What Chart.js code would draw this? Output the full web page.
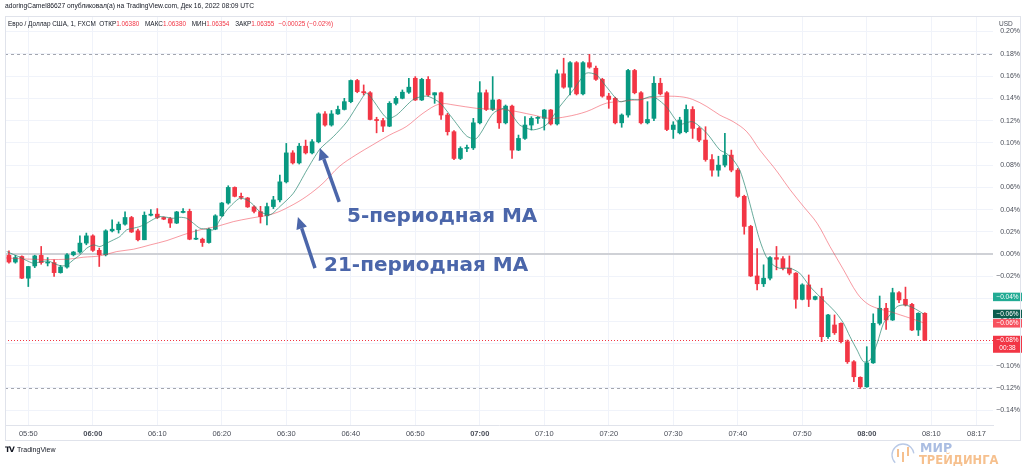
<!DOCTYPE html>
<html lang="ru">

<head>
    <meta charset="UTF-8">
    <title>Евро / Доллар США, 1, FXCM</title>
    <script src="https://cdn.jsdelivr.net/npm/chart.js"></script>
    <style>
        html, body { margin: 0; padding: 0; background: #fff; }
        .wrap { position: relative; width: 1024px; height: 473px; overflow: hidden; font-family: 'Liberation Sans', Arial, sans-serif; color: #131722; }
        #chart { position: absolute; left: 0; top: 0; }
        .author { position: absolute; left: 5px; top: 2px; font-size: 6.7px; white-space: nowrap; }
        .legend { position: absolute; left: 8px; top: 20px; font-size: 6.4px; white-space: nowrap; }
        .legend .v { color: #f23645; margin-right: 4px; }
        .currency { position: absolute; left: 999px; top: 20px; font-size: 6.5px; color: #4a4e59; }
        .note { position: absolute; font-family: 'DejaVu Sans', sans-serif; font-weight: bold; font-size: 20px; line-height: 20px; color: #4b66aa; white-space: nowrap; }
        .tv { position: absolute; left: 5px; top: 445px; font-size: 7px; white-space: nowrap; }
        .tv b { font-family: 'DejaVu Sans', sans-serif; font-size: 7.5px; letter-spacing: -1px; margin-right: 3px; }
        .brand { position: absolute; font-family: 'DejaVu Sans', sans-serif; font-weight: bold; white-space: nowrap; }
    </style>
</head>

<body>
    <div class="wrap">
        <canvas id="chart" width="1024" height="473"></canvas>
        <div class="author">adoringCamel86627 опубликовал(а) на TradingView.com, Дек 16, 2022 08:09 UTC</div>
        <div class="legend">Евро / Доллар США, 1, FXCM&nbsp; ОТКР<span class="v">1.06380</span> МАКС<span class="v">1.06380</span> МИН<span class="v">1.06354</span> ЗАКР<span class="v">1.06355</span><span class="v">−0.00025 (−0.02%)</span></div>
        <div class="currency">USD</div>
        <div class="note" style="left:347px; top:205px;">5-периодная MA</div>
        <div class="note" style="left:324px; top:254px;">21-периодная MA</div>
        <div class="tv"><b>TV</b>TradingView</div>
        <div class="brand" style="left:920px; top:440px; font-size:12.5px; color:#aabde2;">МИР</div>
        <div class="brand" style="left:919px; top:453px; font-size:11.5px; color:#f6c08e;">ТРЕЙДИНГА</div>
    </div>

    <script>
        // values are in hundredths of a percent (15.6 -> 0.156%)
        const firstCandle = '05:47';

        const opens = [
            -0.1, -0.7, -0.2, -2.15, -1.05, -0.1, -0.75, -0.75, -1.65, -1.15,
            -0.05, 0.2, 1.0, 1.65, 0.35, -0.05, 2.1, 2.2, 2.7, 3.3,
            2.1, 1.3, 3.5, 3.6, 3.3, 3.2, 2.8, 3.75, 3.85, 1.35,
            1.35, 1.05, 2.25, 3.45, 4.6, 6.0, 5.2, 5.05, 4.25, 3.83,
            3.45, 4.28, 4.88, 6.5, 9.1, 8.2, 9.7, 9.1, 10.1, 12.6,
            11.6, 12.6, 13.0, 13.7, 15.6, 14.6, 14.5, 12.1, 12.0, 11.5,
            13.55, 14.0, 14.55, 15.8, 13.85, 15.7, 14.3, 14.5, 12.5, 11.0,
            8.6, 9.5, 9.55, 11.8, 14.5, 13.0, 13.85, 11.8, 13.3, 9.35,
            10.4, 11.6, 12.2, 12.2, 12.95, 11.7, 16.2, 15.0, 17.2, 14.4,
            17.2, 16.7, 15.7, 14.2, 14.0, 11.8, 12.5, 16.5, 14.5, 11.8,
            12.2, 15.35, 14.5, 11.2, 10.9, 11.0, 13.0, 11.3, 10.25, 8.5,
            7.55, 8.0, 8.9, 7.55, 5.2, 2.5, -1.95, -2.65, -2.15, -0.3,
            -0.4, -1.25, -1.7, -4.05, -2.75, -4.05, -3.8, -7.4, -6.35, -6.2,
            -7.85, -9.65, -11.05, -11.9, -9.75, -6.2, -4.85, -5.9, -3.45, -4.05,
            -4.5, -6.8, -5.3
        ];
        const highs = [
            0.3, -0.1, -0.15, -1.1, 0.0, 0.7, -0.3, -0.5, -1.0, 0.05,
            0.25, 1.65, 1.9, 1.75, 0.55, 2.2, 3.1, 2.9, 3.8, 3.4,
            2.25, 3.8, 4.0, 4.1, 3.35, 3.3, 3.85, 4.1, 4.05, 2.2,
            1.45, 2.35, 3.55, 4.65, 6.15, 6.05, 5.5, 5.1, 4.35, 4.3,
            4.6, 5.2, 7.1, 9.95, 9.3, 9.95, 10.25, 10.3, 12.7, 12.8,
            12.9, 13.3, 14.0, 15.65, 15.7, 15.2, 14.6, 12.3, 12.2, 13.7,
            14.15, 14.75, 15.8, 15.95, 15.8, 15.95, 14.5, 14.55, 12.65, 11.1,
            9.65, 9.8, 12.2, 15.5, 14.75, 15.95, 13.9, 13.4, 13.4, 10.7,
            12.35, 12.35, 12.35, 13.0, 13.0, 16.55, 17.6, 17.3, 17.3, 17.3,
            17.95, 16.9, 15.8, 14.45, 14.1, 12.6, 16.6, 16.6, 14.6, 13.7,
            15.95, 15.8, 14.6, 11.9, 12.3, 13.4, 13.25, 11.45, 11.45, 8.95,
            8.8, 10.85, 9.35, 7.7, 5.3, 2.6, 0.5, -0.95, -0.2, 0.7,
            -0.2, -0.15, -1.65, -2.65, -1.86, -3.75, -3.05, -5.4, -5.45, -6.15,
            -7.7, -9.55, -11.0, -8.3, -5.35, -3.75, -4.4, -3.05, -3.35, -2.95,
            -4.4, -5.25, -5.25
        ];
        const lows = [
            -0.8, -0.8, -2.2, -2.9, -1.2, -0.9, -1.05, -2.0, -1.7, -1.25,
            -0.15, 0.1, 0.85, 0.25, -1.1, -0.15, 2.0, 1.9, 2.6, 1.95,
            1.2, 1.3, 3.45, 3.2, 3.1, 2.4, 2.75, 3.7, 1.3, 1.3,
            0.7, 1.0, 2.2, 3.4, 4.5, 5.15, 4.95, 4.2, 3.7, 2.8,
            2.63, 4.1, 4.7, 6.4, 8.1, 8.1, 9.0, 9.0, 10.0, 11.5,
            11.5, 12.55, 12.95, 13.6, 14.5, 14.3, 12.05, 10.9, 11.0, 11.45,
            13.4, 13.95, 14.45, 13.8, 13.8, 14.2, 13.55, 12.1, 10.7, 8.5,
            8.5, 9.2, 9.4, 11.7, 12.9, 12.9, 11.3, 11.7, 8.6, 9.3,
            10.3, 11.15, 11.75, 11.15, 11.6, 11.6, 14.9, 14.3, 14.3, 14.3,
            16.7, 15.6, 14.1, 13.1, 11.7, 11.4, 12.3, 14.4, 11.7, 11.7,
            12.0, 14.3, 11.1, 10.4, 10.8, 10.9, 10.4, 10.1, 8.35, 7.0,
            7.0, 7.85, 7.4, 5.1, 1.8, -2.0, -3.2, -2.9, -2.3, -1.4,
            -1.4, -1.85, -4.85, -4.1, -4.7, -4.1, -7.85, -7.55, -7.2, -7.95,
            -9.8, -11.45, -12.05, -11.95, -9.8, -6.35, -6.75, -5.95, -4.35, -4.65,
            -6.85, -7.3, -7.75
        ];
        const closes = [
            -0.7, -0.3, -2.15, -1.1, -0.15, -0.75, -0.7, -1.65, -1.15, -0.05,
            0.2, 1.0, 1.65, 0.35, -0.05, 2.1, 2.25, 2.7, 3.3, 2.0,
            1.3, 3.5, 3.6, 3.3, 3.15, 2.8, 3.8, 3.85, 1.35, 1.4,
            1.05, 2.25, 3.45, 4.6, 6.0, 5.2, 5.1, 4.25, 3.85, 3.38,
            4.28, 4.88, 6.5, 9.1, 8.2, 9.7, 9.1, 10.1, 12.6, 11.6,
            12.6, 13.0, 13.7, 15.6, 14.6, 14.5, 12.1, 12.0, 11.5, 13.55,
            14.0, 14.55, 15.0, 13.85, 15.7, 14.3, 14.5, 12.5, 11.0, 8.6,
            9.5, 9.55, 11.8, 14.5, 13.0, 13.85, 11.8, 13.3, 9.35, 10.4,
            11.6, 12.2, 12.25, 12.95, 11.7, 16.2, 15.0, 17.2, 14.4, 17.2,
            16.8, 15.7, 14.2, 13.9, 11.8, 12.5, 16.5, 14.5, 11.8, 12.1,
            15.35, 14.4, 11.2, 11.6, 12.05, 13.0, 11.3, 10.25, 8.5, 7.55,
            8.0, 8.9, 7.55, 5.2, 2.5, -1.95, -2.65, -2.15, -0.3, -0.45,
            -1.25, -1.7, -4.05, -2.75, -4.05, -3.8, -7.4, -5.45, -7.05, -7.85,
            -9.65, -11.0, -11.9, -9.75, -6.2, -4.85, -5.9, -3.45, -4.1, -4.55,
            -6.8, -5.3, -7.7
        ];

        // moving averages, times in minutes after 05:50
        const ma5Times = [
            -3.35, -1.28, -0.25, 0.78, 2.07, 3.1, 4.14, 5.17, 6.0, 7.0, 8.0, 9.05, 10.1, 11.1, 12.15, 13.2, 14.2,
            15.25, 16.3, 17.3, 18.35, 19.4, 20.4, 21.45, 22.5, 23.5, 24.55, 25.6, 26.6, 27.7, 28.7, 29.7, 30.8,
            31.8, 32.8, 33.9, 34.9, 35.9, 37.5, 39.0, 41.1, 43.2, 45.2, 47.3, 49.4, 51.4, 52.5, 55.6, 57.1, 59.7,
            61.8, 63.8, 65.9, 68.0, 69.5, 72.1, 74.1, 76.2, 78.3, 80.3, 82.4, 84.5, 86.5, 88.1, 89.6, 91.7, 93.2,
            94.8, 96.8, 98.9, 101.0, 103.0, 105.2, 107.2, 108.2, 109.3, 110.3, 111.3, 112.4, 113.4, 114.4, 115.5,
            116.5, 118.1, 119.6, 121.2, 122.7, 123.8, 125.3, 126.4, 127.4, 128.5, 129.5, 130.5, 131.6, 132.6,
            133.6, 134.7, 135.7, 136.8, 137.8, 138.8
        ];
        const ma5Values = [
            0.24, -0.27, -0.57, -0.8, -0.66, -0.6, -0.87, -1.05, -0.96, -0.5, -0.06, 0.54, 0.84, 0.69, 0.99, 1.29, 1.59,
            2.19, 2.34, 2.49, 2.78, 3.14, 3.38, 3.32, 3.23, 3.32, 3.23, 2.78, 2.34, 2.25, 2.19, 3.08, 3.98,
            4.58, 5.03, 4.88, 4.43, 3.83, 3.55, 4.28, 5.48, 7.57, 9.43, 10.56, 11.9, 13.7, 14.46, 12.2, 12.5, 13.9,
            14.2, 13.6, 12.1, 10.6, 10.4, 12.66, 13.1, 11.6, 11.17, 11.6, 13.26, 14.76, 16.25, 16.1, 15.06, 13.7, 13.9,
            13.86, 14.16, 13.26, 11.7, 11.9, 10.86, 9.37, 9.07, 8.47, 7.57, 5.78, 3.38, 1.28, -0.21, -0.96,
            -1.26, -1.26, -1.7, -2.9, -3.8, -4.4, -5.3, -6.2, -7.4, -8.6, -9.65, -9.5, -8.0, -6.2,
            -5.45, -4.7, -4.55, -4.7, -5.0, -5.36
        ];
        const ma21Times = [
            -4.4, 0.8, 6.0, 8.5, 11.1, 13.7, 16.3, 18.9, 21.5, 24.0, 26.6, 29.2, 31.8, 34.4, 37.9, 40.5, 43.1,
            45.7, 48.2, 50.8, 53.4, 56.0, 58.6, 61.2, 63.8, 66.0, 69.5, 74.1, 78.3, 80.8, 83.5, 86.5, 89.6,
            91.7, 94.8, 97.9, 101.0, 103.0, 105.2, 107.2, 109.3, 111.4, 113.4, 115.5, 116.5, 118.1, 120.2,
            122.3, 124.3, 126.4, 128.5, 130.0, 131.6, 133.6, 135.2, 136.8, 139.0
        ];
        const ma21Values = [
            -0.3, -0.45, -0.45, -0.27, -0.15, 0.24, 0.45, 0.84, 1.23, 1.74, 2.19, 2.49, 2.93, 3.23, 3.62, 4.28, 5.18,
            6.38, 7.87, 8.92, 9.82, 10.7, 11.46, 12.66, 13.5, 13.4, 13.1, 12.96, 12.5, 12.2, 12.36, 12.8, 13.56,
            13.7, 13.9, 14.16, 14.15, 13.9, 13.26, 12.5, 11.9, 11.0, 9.37, 7.87, 7.1, 5.8, 4.28,
            2.78, 0.69, -1.4, -3.5, -4.4, -4.85, -5.15, -5.45, -5.75, -6.2
        ];

        const timeTicks = ['05:50', '06:00', '06:10', '06:20', '06:30', '06:40', '06:50', '07:00', '07:10',
            '07:20', '07:30', '07:40', '07:50', '08:00', '08:10', '08:17'];
        const priceTicks = [20, 18, 16, 14, 12, 10, 8, 6, 4, 2, 0, -2, -4, -6, -8, -10, -12, -14];

        // labels stuck on the price scale
        const scaleTags = [
            { value: -3.83, text: ['−0.04%'], bg: '#22ab94' },
            { value: -5.36, text: ['−0.06%'], bg: '#0b5d4e' },
            { value: -6.2, text: ['−0.06%'], bg: '#f7525f' },
            { value: -7.7, text: ['−0.08%', '00:38'], bg: '#f23645' }
        ];

        // arrows of the notes: tail and tip, [time after 05:50, value]
        const arrows = [
            { from: [48.2, 4.7], to: [45.2, 9.55] },
            { from: [44.45, -1.25], to: [41.8, 3.35] }
        ];

        const upColor = '#089981';
        const downColor = '#f23645';

        function toMin(s) {
            var p = s.split(':');
            return +p[0] * 60 + +p[1];
        }
        function toClock(m) {
            var h = Math.floor(m / 60), mm = Math.round(m - h * 60);
            return (h < 10 ? '0' : '') + h + ':' + (mm < 10 ? '0' : '') + mm;
        }
        function pct(v) {
            var s = (Math.abs(v) / 100).toFixed(2) + '%';
            return v < -0.001 ? '−' + s : s;
        }

        const base = toMin('05:50');
        const start = toMin(firstCandle);
        const colorOf = i => closes[i] >= opens[i] ? upColor : downColor;

        const wickData = opens.map((o, i) => ({ x: start + i, y: [lows[i], highs[i]] }));
        const bodyData = opens.map((o, i) => ({ x: start + i, y: [o, closes[i]] }));
        const ma5Data = ma5Times.map((t, i) => ({ x: base + t, y: ma5Values[i] }));
        const ma21Data = ma21Times.map((t, i) => ({ x: base + t, y: ma21Values[i] }));

        function drawArrow(ctx, x1, y1, x2, y2) {
            var ang = Math.atan2(y2 - y1, x2 - x1);
            var head = 12, half = 5.5;
            var bx = x2 - head * Math.cos(ang), by = y2 - head * Math.sin(ang);
            ctx.lineWidth = 3.5;
            ctx.beginPath();
            ctx.moveTo(x1, y1);
            ctx.lineTo(bx, by);
            ctx.stroke();
            ctx.beginPath();
            ctx.moveTo(x2, y2);
            ctx.lineTo(bx + half * Math.sin(ang), by - half * Math.cos(ang));
            ctx.lineTo(bx - half * Math.sin(ang), by + half * Math.cos(ang));
            ctx.closePath();
            ctx.fill();
        }

        const overlay = {
            id: 'overlay',
            beforeDatasetsDraw(chart) {
                const { ctx, chartArea: a, scales: { y } } = chart;
                ctx.save();
                ctx.lineWidth = 1;
                ctx.setLineDash([3, 3]);
                ctx.strokeStyle = '#a3a6af';
                [Math.max(...highs), Math.min(...lows)].forEach(function (v) {
                    var py = Math.round(y.getPixelForValue(v)) + 0.5;
                    ctx.beginPath();
                    ctx.moveTo(a.left, py);
                    ctx.lineTo(a.right, py);
                    ctx.stroke();
                });
                ctx.setLineDash([1, 2]);
                ctx.strokeStyle = '#f23645';
                var pc = Math.round(y.getPixelForValue(closes[closes.length - 1])) + 0.5;
                ctx.beginPath();
                ctx.moveTo(a.left, pc);
                ctx.lineTo(a.right, pc);
                ctx.stroke();
                ctx.restore();
            },
            afterDraw(chart) {
                const { ctx, chartArea: a, scales: { x, y } } = chart;
                ctx.save();

                // arrows of the notes
                ctx.strokeStyle = '#4b66aa';
                ctx.fillStyle = '#4b66aa';
                arrows.forEach(function (ar) {
                    drawArrow(ctx,
                        x.getPixelForValue(base + ar.from[0]), y.getPixelForValue(ar.from[1]),
                        x.getPixelForValue(base + ar.to[0]), y.getPixelForValue(ar.to[1]));
                });

                // tags on the price scale
                ctx.font = '6.5px "Liberation Sans", Arial, sans-serif';
                ctx.textAlign = 'center';
                ctx.textBaseline = 'middle';
                scaleTags.forEach(function (tg) {
                    var cy = y.getPixelForValue(tg.value);
                    var h = 8.5 * tg.text.length;
                    var top = cy - 4.25;
                    ctx.fillStyle = tg.bg;
                    ctx.fillRect(a.right, top, 29, h);
                    ctx.fillStyle = '#fff';
                    tg.text.forEach(function (t, k) {
                        ctx.fillText(t, a.right + 14.5, top + 4.5 + k * 8.2);
                    });
                });

                // frame
                ctx.strokeStyle = '#e0e3eb';
                ctx.lineWidth = 1;
                ctx.strokeRect(5.5, 16.5, 1015, 424);

                // little logo next to the brand
                ctx.strokeStyle = '#b9c9e6';
                ctx.lineWidth = 1.3;
                ctx.beginPath();
                ctx.arc(903, 455, 11, Math.PI * 0.75, Math.PI * 1.95);
                ctx.stroke();
                ctx.fillStyle = '#f6c08e';
                [[897, 449, 8], [902, 452, 10], [907, 447, 9]].forEach(function (c) {
                    ctx.fillRect(c[0], c[1], 2, c[2]);
                });
                ctx.restore();
            }
        };

        const font = "'Liberation Sans', Arial, sans-serif";

        new Chart(document.getElementById('chart'), {
            type: 'bar',
            data: {
                datasets: [
                    {
                        type: 'line', label: 'MA 5', data: ma5Data, order: 0,
                        borderColor: 'rgba(40,135,112,0.7)', borderWidth: 1, pointRadius: 0, tension: 0.25
                    },
                    {
                        type: 'line', label: 'MA 21', data: ma21Data, order: 1,
                        borderColor: 'rgba(242,54,69,0.5)', borderWidth: 1, pointRadius: 0, tension: 0.35
                    },
                    {
                        label: 'bodies', data: bodyData, order: 2, grouped: false,
                        barThickness: 4, minBarLength: 1,
                        backgroundColor: ctx => colorOf(ctx.dataIndex)
                    },
                    {
                        label: 'wicks', data: wickData, order: 3, grouped: false,
                        barThickness: 1, minBarLength: 1,
                        backgroundColor: ctx => colorOf(ctx.dataIndex)
                    }
                ]
            },
            options: {
                responsive: false,
                animation: false,
                events: [],
                layout: { padding: { left: 5, top: 17, right: 4, bottom: 33 } },
                plugins: { legend: { display: false }, tooltip: { enabled: false } },
                scales: {
                    x: {
                        type: 'linear',
                        min: base - 3.612,
                        max: base + 149.57,
                        offset: false,
                        afterFit: s => { s.height = 15; },
                        afterBuildTicks: s => { s.ticks = timeTicks.map(t => ({ value: toMin(t) })); },
                        grid: { offset: false, color: '#f0f3fa', drawTicks: false },
                        border: { display: true, color: '#e0e3eb' },
                        ticks: {
                            padding: 4,
                            maxRotation: 0,
                            autoSkip: false,
                            color: '#4a4e59',
                            font: c => ({ family: font, size: 7.5, weight: c.tick && c.tick.value % 60 === 0 ? 'bold' : 'normal' }),
                            callback: v => toClock(v)
                        }
                    },
                    y: {
                        position: 'right',
                        min: -15.33,
                        max: 21.3,
                        afterFit: s => { s.width = 27; },
                        afterBuildTicks: s => { s.ticks = priceTicks.map(v => ({ value: v })); },
                        grid: {
                            drawTicks: false,
                            color: c => c.tick && c.tick.value === 0 ? '#cfd1d6' : '#f0f3fa',
                            lineWidth: c => c.tick && c.tick.value === 0 ? 2 : 1
                        },
                        border: { display: false },
                        ticks: {
                            padding: 2,
                            crossAlign: 'far',
                            color: '#4a4e59',
                            font: { family: font, size: 7 },
                            callback: v => pct(v)
                        }
                    }
                }
            },
            plugins: [overlay]
        });
    </script>
</body>

</html>
